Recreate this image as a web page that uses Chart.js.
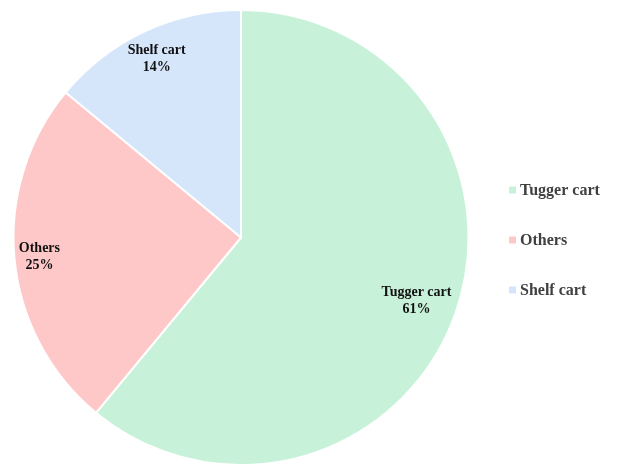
<!DOCTYPE html>
<html>
<head>
    <title>Cart Types Share</title>
    <script src="https://cdn.jsdelivr.net/npm/chart.js"></script>
    <style>
        html, body { margin: 0; padding: 0; background: #fff; }
        #wrap { width: 617px; height: 466px; }
    </style>
</head>
<body>
    <div id="wrap"><canvas id="pieChart"></canvas></div>
    <script>
        // chart values
        const categories = ['Tugger cart', 'Others', 'Shelf cart'];
        const shares = [61, 25, 14];

        const sliceColors = ['#c7f1d8', '#ffc8c8', '#d5e6fb'];
        const labelRadius = [0.82, 0.89, 0.87]; // fraction of radius where slice labels sit
        const serif = '"Liberation Serif", "Times New Roman", serif';

        // slice labels: name + percent
        const sliceLabels = {
            id: 'sliceLabels',
            afterDatasetsDraw(chart) {
                const ctx = chart.ctx;
                const meta = chart.getDatasetMeta(0);
                ctx.save();
                ctx.font = 'bold 14px ' + serif;
                ctx.fillStyle = '#111';
                ctx.textAlign = 'center';
                ctx.textBaseline = 'middle';
                meta.data.forEach((arc, i) => {
                    const mid = (arc.startAngle + arc.endAngle) / 2;
                    const r = arc.outerRadius * labelRadius[i];
                    const x = arc.x + Math.cos(mid) * r;
                    const y = arc.y + Math.sin(mid) * r;
                    ctx.fillText(categories[i], x, y - 8);
                    ctx.fillText(shares[i] + '%', x, y + 9);
                });
                ctx.restore();
            }
        };

        // legend on the right, drawn by hand for the wide spacing
        const sideLegend = {
            id: 'sideLegend',
            afterDraw(chart) {
                const ctx = chart.ctx;
                const x = 509;
                const mid = (chart.chartArea.top + chart.chartArea.bottom) / 2;
                const gap = 50;
                ctx.save();
                ctx.font = 'bold 16px ' + serif;
                ctx.textBaseline = 'middle';
                categories.forEach((name, i) => {
                    const y = mid + (i - 1) * gap + 3;
                    ctx.fillStyle = sliceColors[i];
                    ctx.fillRect(x, y - 4, 7, 7);
                    ctx.fillStyle = '#404040';
                    ctx.fillText(name, x + 11, y);
                });
                ctx.restore();
            }
        };

        const ctx = document.getElementById('pieChart').getContext('2d');
        const pieChart = new Chart(ctx, {
            type: 'pie',
            data: {
                labels: categories,
                datasets: [{
                    data: shares,
                    backgroundColor: sliceColors,
                    borderColor: '#ffffff',
                    borderWidth: 2
                }]
            },
            options: {
                responsive: true,
                maintainAspectRatio: false,
                animation: false,
                layout: {
                    padding: { left: 12, top: 9, bottom: -2, right: 147 }
                },
                plugins: {
                    legend: { display: false },
                    tooltip: { enabled: false }
                }
            },
            plugins: [sliceLabels, sideLegend]
        });
    </script>
</body>
</html>
